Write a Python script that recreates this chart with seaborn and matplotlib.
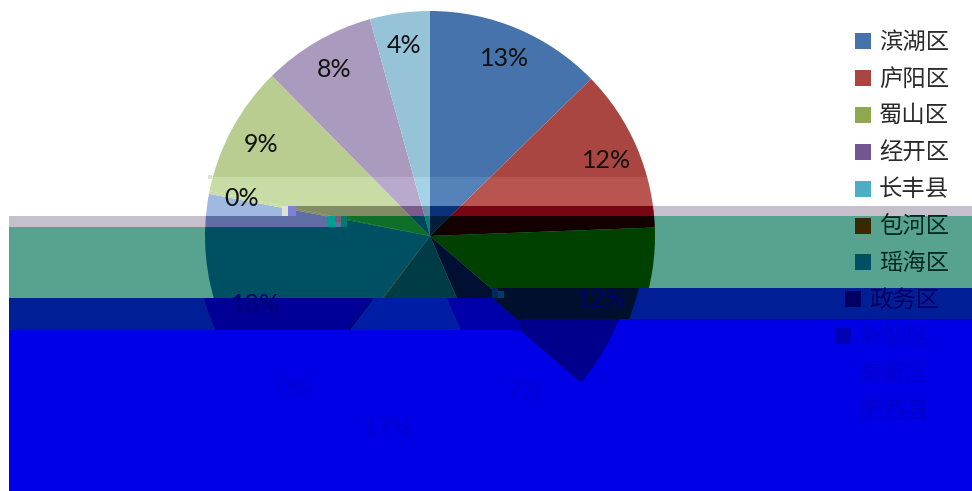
import matplotlib
matplotlib.use("Agg")
import matplotlib.pyplot as plt
import seaborn as sns
from matplotlib.patches import Polygon, Rectangle

W, H = 972, 491

# chart data
districts = ["滨湖区", "庐阳区", "蜀山区", "经开区", "长丰县", "包河区",
             "瑶海区", "政务区", "新站区", "高新区", "肥西县"]
shares = [12.7, 11.7, 11.9, 7.2, 16.7, 0.2, 17.6, 0.2, 9.4, 8.1, 4.3]

# slice colours in the clean part of the picture, and in each damaged band
base_colors = ["#4673ab", "#aa4641", "#9bbb59", "#7f5f9a", "#4facc6", "#f79646",
               "#aabee1", "#b9cd91", "#b9cd91", "#aa9bbe", "#96c3d7"]
light_colors = ["#5582b9", "#b95550", "#aac968", "#8e6ea9", "#5ebbd5", "#ffa555",
                "#a0b9e1", "#c8dca5", "#c8dca5", "#b9aacd", "#a5d2e6"]
band1_colors = ["#0a3278", "#780514", "#828c64", "#5a3c78", "#2a7a95", "#a05a14",
                "#5f6ea5", "#828c64", "#828c64", "#7d5a8c", "#698caa"]
band2_colors = ["#001e3c", "#140000", "#004100", "#000f32", "#003c46", "#3c2800",
                "#005064", "#0f6e28", "#0f6e28", "#00465a", "#008282"]
band3_colors = ["#000a3c", "#00003c", "#000f2d", "#0000aa", "#001ea5", "#00005a",
                "#000096", "#000064", "#000096", "#000096", "#000096"]
band4_colors = ["#0000e6", "#0000e6", "#00008c", "#0000e6", "#0000e6", "#0000e6",
                "#0000e6", "#0000e6", "#0000e6", "#0000e6", "#0000e6"]
legend_colors = ["#4673ab", "#aa4641", "#8fa84f", "#73568f", "#4facc6", "#3c2800",
                 "#005064", "#000064", "#0000b4", "#0000e6", "#0000e6"]

sns.set_theme(style="white")
plt.rcParams["font.family"] = ["Noto Sans CJK SC", "DejaVu Sans"]

fig = plt.figure(figsize=(W / 100, H / 100), dpi=100, facecolor="white")
ax = fig.add_axes([0, 0, 1, 1])

# each band: step x, top on the left of it, top on the right of it (pixels from the top)
# then background, slice colours, label colour, legend text colour, sideways shift
bands = [
    (0, 0, 0, "white", base_colors, "#111111", "#2a2a2a", 0),
    (211, 187, 177, "white", light_colors, "#111111", "#2a2a2a", 0),
    (296, 216, 206, "#c6c0cd", band1_colors, "#111111", "#2a2a2a", 0),
    (347, 227, 216, "#58a390", band2_colors, "#001010", "#002a20", 0),
    (496, 298, 288, "#001e96", band3_colors, "#00006e", "#000064", -10),
    (520, 330, 319, "#0000e6", band4_colors, "#0000d2", "#0000cc", -20),
]


def owner(x, y):
    # index of the band that a point in pixels falls in
    found = 0
    for k, b in enumerate(bands):
        if y >= (b[1] if x < b[0] else b[2]):
            found = k
    return found


for k, (xb, y_left, y_right, bg, colors, label_c, legend_c, shift) in enumerate(bands):
    z = k + 1
    if k == 0:
        pts = [(0, 0), (W, 0), (W, H), (0, H)]
    else:
        pts = [(9, y_left), (xb, y_left), (xb, y_right), (W, y_right), (W, H), (9, H)]
    clip = Polygon([(x, H - y) for x, y in pts], closed=True, facecolor=bg, edgecolor="none", zorder=z)
    ax.add_patch(clip)

    wedges, _, pcts = ax.pie(shares, colors=sns.color_palette(colors), startangle=90,
                             counterclock=False, radius=225, center=(430 + shift, H - 236),
                             autopct="%.0f%%", pctdistance=0.855, frame=True,
                             wedgeprops=dict(edgecolor="none", linewidth=0),
                             textprops=dict(family="Lato", fontsize=18, color=label_c))
    for w in wedges:
        w.set_zorder(z + 0.1)
        w.set_clip_on(True)
        w.set_clip_path(clip)
    for i, t in enumerate(pcts):
        x, y = t.get_position()
        if i == 6:
            # the 18% label sits further in than the others
            x += 15
        t.set_position((x, y))
        if owner(x, H - y) != k:
            t.remove()
        else:
            t.set_zorder(z + 0.3)

    for i, name in enumerate(districts):
        y = 41 + i * 36.9
        sq = Rectangle((855 + shift, H - y - 8), 16, 16, zorder=z + 0.2,
                       facecolor=legend_colors[i], edgecolor="none")
        ax.add_patch(sq)
        sq.set_clip_path(clip)
        if owner(900, y) == k:
            ax.text(879 + shift, H - y - 1, name, fontsize=16.8, color=legend_c, va="center",
                    ha="left", zorder=z + 0.3)

# blocky decoding debris at the steps of the bands
debris = [(282, 206, 6, 10, "#dfe4d2"), (288, 206, 8, 10, "#8080dc"),
          (327, 216, 8, 11, "#00a090"), (335, 216, 6, 6, "#785a78"),
          (341, 216, 6, 11, "#007a6a"), (492, 288, 6, 10, "#00285a"),
          (498, 291, 6, 7, "#003c64"), (208, 175, 4, 4, "#dde5d0")]
for x, y, w, h, c in debris:
    ax.add_patch(Rectangle((x, H - y - h), w, h, facecolor=c, edgecolor="none", zorder=8))

ax.set_xlim(0, W)
ax.set_ylim(0, H)
ax.set_aspect("auto")
ax.axis("off")

fig.savefig("out.png", dpi=100)
